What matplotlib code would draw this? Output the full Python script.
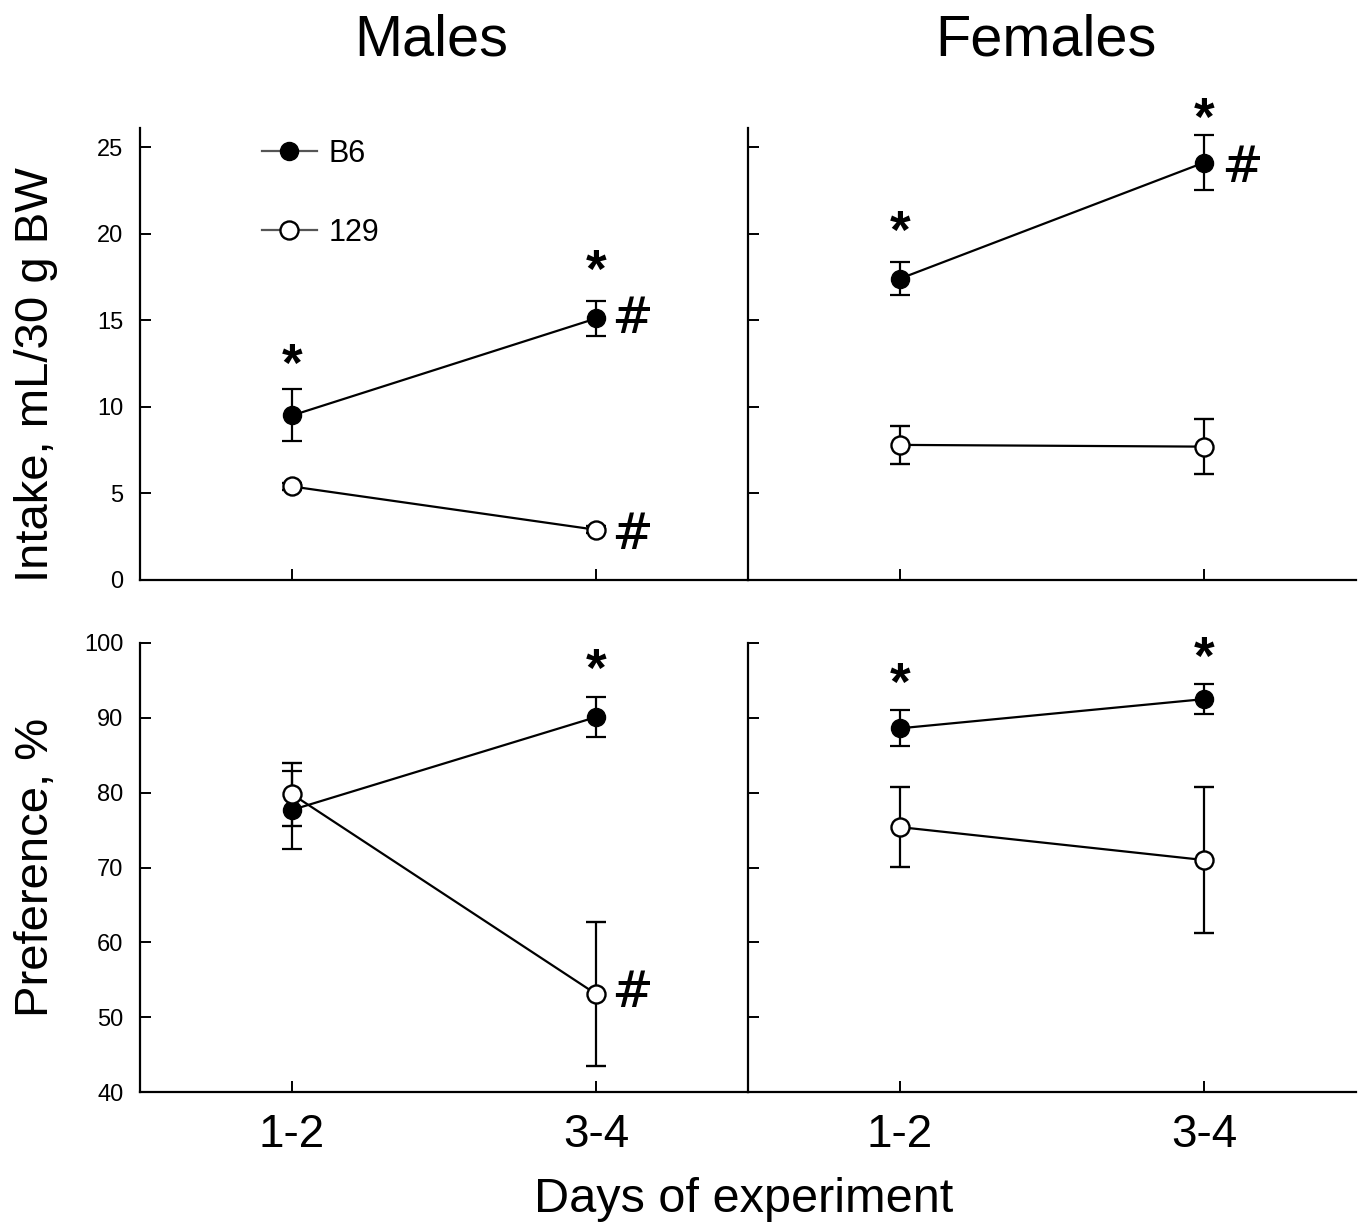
import matplotlib
matplotlib.use("Agg")
import matplotlib.pyplot as plt

plt.rcParams["font.family"] = ["Liberation Sans", "DejaVu Sans"]

days = ["1-2", "3-4"]
xpos = [1, 2]

# intake, mL/30 g BW
male_b6_intake = [9.5, 15.1]
male_b6_intake_err = [1.5, 1.0]
male_129_intake = [5.4, 2.9]
male_129_intake_err = [0.2, 0.2]
female_b6_intake = [17.4, 24.1]
female_b6_intake_err = [0.95, 1.6]
female_129_intake = [7.8, 7.7]
female_129_intake_err = [1.1, 1.6]

# preference, %
male_b6_pref = [77.7, 90.1]
male_b6_pref_err = [5.2, 2.7]
male_129_pref = [79.8, 53.1]
male_129_pref_err = [4.2, 9.6]
female_b6_pref = [88.6, 92.5]
female_b6_pref_err = [2.4, 2.0]
female_129_pref = [75.4, 71.0]
female_129_pref_err = [5.3, 9.7]

# significance marks: (x, y, symbol)
marks_male_intake = [(1, 12.3, "*"), (2, 17.7, "*"), (2.12, 15.05, "#"), (2.12, 2.6, "#")]
marks_female_intake = [(1, 20.0, "*"), (2, 26.5, "*"), (2.125, 23.8, "#")]
marks_male_pref = [(2, 96.1, "*"), (2.12, 53.2, "#")]
marks_female_pref = [(1, 94.3, "*"), (2, 97.7, "*")]

fig = plt.figure(figsize=(13.65, 12.28), dpi=100)

L, W = 0.1026, 0.4454
R = 0.548
axes = {
    "mi": fig.add_axes([L, 0.5277, W, 0.3681]),
    "fi": fig.add_axes([R, 0.5277, W, 0.3681]),
    "mp": fig.add_axes([L, 0.1107, W, 0.3657]),
    "fp": fig.add_axes([R, 0.1107, W, 0.3657]),
}


def draw(ax, b6, b6e, s129, s129e):
    c1 = ax.errorbar(xpos, b6, yerr=b6e, color="black", marker="o", markersize=13,
                     markerfacecolor="black", markeredgecolor="black", linewidth=1.6,
                     elinewidth=1.6, capsize=7, capthick=1.6, label="B6", zorder=3)
    c2 = ax.errorbar(xpos, s129, yerr=s129e, color="black", marker="o", markersize=13,
                     markerfacecolor="white", markeredgecolor="black", markeredgewidth=1.7,
                     linewidth=1.6, elinewidth=1.6, capsize=7, capthick=1.6, label="129",
                     zorder=4)
    return c1, c2


c_b6, c_129 = draw(axes["mi"], male_b6_intake, male_b6_intake_err,
                   male_129_intake, male_129_intake_err)
draw(axes["fi"], female_b6_intake, female_b6_intake_err, female_129_intake, female_129_intake_err)
draw(axes["mp"], male_b6_pref, male_b6_pref_err, male_129_pref, male_129_pref_err)
draw(axes["fp"], female_b6_pref, female_b6_pref_err, female_129_pref, female_129_pref_err)

for key, marks in (("mi", marks_male_intake), ("fi", marks_female_intake),
                   ("mp", marks_male_pref), ("fp", marks_female_pref)):
    ax = axes[key]
    for x, y, s in marks:
        if s == "*":
            ax.text(x, y, s, ha="center", va="center", fontsize=38,
                    fontweight="bold", clip_on=False)
        else:
            ax.text(x, y, s, ha="center", va="center", fontsize=36,
                    family="DejaVu Serif", clip_on=False)

for key, ax in axes.items():
    ax.set_xlim(0.5, 2.5)
    ax.spines["top"].set_visible(False)
    ax.spines["right"].set_visible(False)
    for sp in ("left", "bottom"):
        ax.spines[sp].set_linewidth(1.6)
    ax.tick_params(direction="in", length=8, width=1.4, labelsize=17)
    ax.tick_params(axis="y", pad=12)
    ax.set_xticks(xpos)
    if key in ("mi", "fi"):
        ax.set_ylim(0, 26.1)
        ax.set_yticks([0, 5, 10, 15, 20, 25])
        ax.set_xticklabels([])
    else:
        ax.set_ylim(40, 100)
        ax.set_yticks([40, 50, 60, 70, 80, 90, 100])
        ax.set_xticklabels(days, fontsize=33)
        ax.tick_params(axis="x", pad=15)
    if key in ("fi", "fp"):
        ax.set_yticklabels([])

axes["mi"].set_ylabel("Intake, mL/30 g BW", fontsize=34)
axes["mi"].yaxis.set_label_coords(-0.135, 0.4535)
axes["mp"].set_ylabel("Preference, %", fontsize=34)
axes["mp"].yaxis.set_label_coords(-0.135, 0.5)

leg = axes["mi"].legend(handles=[c_b6[0], c_129[0]], labels=["B6", "129"],
                        loc="upper left", bbox_to_anchor=(0.2, 0.976), frameon=False,
                        fontsize=22, handlelength=1.8, labelspacing=1.6,
                        handletextpad=0.4, borderaxespad=0.0, borderpad=0.0)
for h in leg.legend_handles:
    h.set_color("#555555")

fig.text(0.316, 0.967, "Males", ha="center", va="center", fontsize=41.5)
fig.text(0.766, 0.967, "Females", ha="center", va="center", fontsize=41.5)
fig.text(0.545, 0.023, "Days of experiment", ha="center", va="center", fontsize=35)

fig.savefig("out.png", dpi=100)
